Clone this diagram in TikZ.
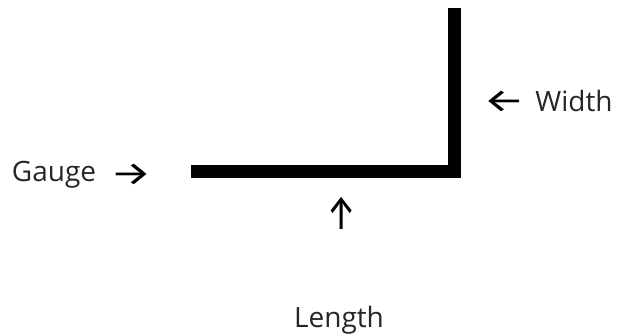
\documentclass[tikz,border=0pt]{standalone}
\usepackage{fontspec}
\setmainfont{Open Sans}
\newfontfamily\arrowfont{Fira Sans}
\usepackage{tikz}
\usetikzlibrary{positioning}
\definecolor{labelgrey}{HTML}{262626}
\newcommand{\wide}[1]{\scalebox{1.45}[1.05]{#1}}
\newcommand{\tall}[1]{\scalebox{1.05}[1.5]{#1}}

\begin{document}
\begin{tikzpicture}[x=1pt,y=-1pt,
  lbl/.style={font=\fontsize{28}{34}\selectfont,text=labelgrey,inner sep=0pt,anchor=base},
  pointer/.style={font=\arrowfont\fontsize{32}{36}\selectfont,inner sep=0pt}]
\useasboundingbox (0,0) rectangle (618,336);
% the bent bar
\draw[line width=13pt] (191,171.5) coordinate (barL) -- (454,171.5) coordinate (corner) -- (454,8) coordinate (barT);
% labels
\node[lbl] (gauge) at (54,182) {Gauge};
\node[pointer] (gaugeArr) at (131,175) {\wide{→}};
\node[lbl] (width) at (574,112) {Width};
\node[pointer] (widthArr) at (504,102) {\wide{←}};
\node[pointer] (lengthArr) at (342,213) {\tall{↑}};
\node[lbl] (length) at (339,327) {Length};
\end{tikzpicture}
\end{document}
